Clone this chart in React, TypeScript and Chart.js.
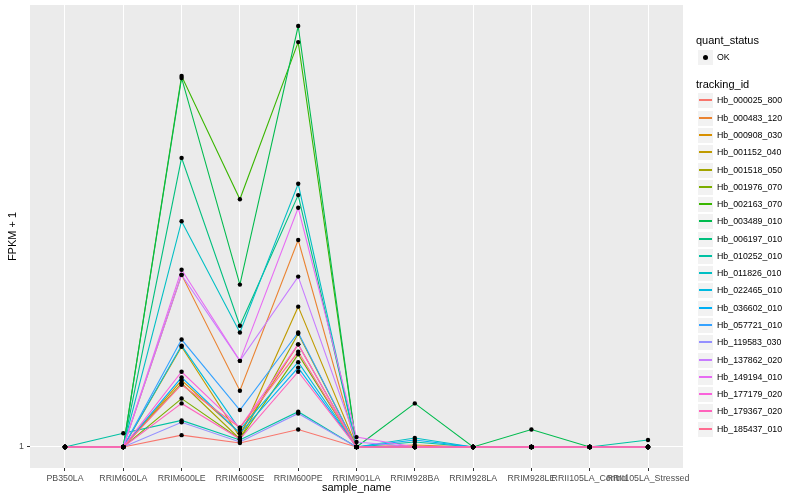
import React, { useEffect, useRef } from "react";
import { Chart, registerables } from "chart.js";

Chart.register(...registerables);

// ---- data ----
const categories = [
  "PB350LA",
  "RRIM600LA",
  "RRIM600LE",
  "RRIM600SE",
  "RRIM600PE",
  "RRIM901LA",
  "RRIM928BA",
  "RRIM928LA",
  "RRIM928LE",
  "RRII105LA_Control",
  "RRII105LA_Stressed",
];

const yTickValues = [1];

// FPKM + 1 per sample, in category order
const hb_000025_800 = [1, 1, 1.06, 1.02, 1.09, 1, 1, 1, 1, 1, 1];
const hb_000483_120 = [1, 1, 2.34, 1.32, 2.78, 1, 1.01, 1, 1, 1, 1];
const hb_000908_030 = [1, 1, 1.39, 1.07, 1.66, 1, 1, 1, 1, 1, 1];
const hb_001152_040 = [1, 1, 1.64, 1.05, 2.0, 1, 1, 1, 1, 1, 1];
const hb_001518_050 = [1, 1, 1.37, 1.04, 1.75, 1, 1, 1, 1, 1, 1];
const hb_001976_070 = [1, 1, 1.27, 1.04, 1.58, 1, 1, 1, 1, 1, 1];
const hb_002163_070 = [1, 1, 6.25, 3.4, 7.39, 1, 1, 1, 1, 1, 1];
const hb_003489_010 = [1, 1, 6.19, 2.23, 8.0, 1, 1.24, 1, 1.09, 1, 1];
const hb_006197_010 = [1, 1, 4.17, 1.82, 3.47, 1, 1, 1, 1, 1, 1];
const hb_010252_010 = [1, 1.07, 1.14, 1.035, 1.19, 1, 1.025, 1, 1, 1, 1.035];
const hb_011826_010 = [1, 1, 3.05, 1.76, 3.67, 1, 1.045, 1, 1, 1, 1];
const hb_022465_010 = [1, 1, 1.65, 1.09, 1.52, 1, 1, 1, 1, 1, 1];
const hb_036602_010 = [1, 1, 1.41, 1.07, 1.48, 1, 1.035, 1, 1, 1, 1];
const hb_057721_010 = [1, 1, 1.7, 1.2, 1.76, 1, 1, 1, 1, 1, 1];
const hb_119583_030 = [1, 1, 1.13, 1.025, 1.18, 1, 1, 1, 1, 1, 1];
const hb_137862_020 = [1, 1, 2.34, 1.53, 2.32, 1.025, 1, 1, 1, 1, 1];
const hb_149194_010 = [1, 1, 2.4, 1.53, 3.26, 1.05, 1, 1, 1, 1, 1];
const hb_177179_020 = [1, 1, 1.45, 1.1, 1.66, 1, 1, 1, 1, 1, 1];
const hb_179367_020 = [1, 1, 1.24, 1.04, 1.45, 1, 1, 1, 1, 1, 1];
const hb_185437_010 = [1, 1, 1.36, 1.1, 1.6, 1, 1, 1, 1, 1, 1];

const trackingIds = [
  "Hb_000025_800",
  "Hb_000483_120",
  "Hb_000908_030",
  "Hb_001152_040",
  "Hb_001518_050",
  "Hb_001976_070",
  "Hb_002163_070",
  "Hb_003489_010",
  "Hb_006197_010",
  "Hb_010252_010",
  "Hb_011826_010",
  "Hb_022465_010",
  "Hb_036602_010",
  "Hb_057721_010",
  "Hb_119583_030",
  "Hb_137862_020",
  "Hb_149194_010",
  "Hb_177179_020",
  "Hb_179367_020",
  "Hb_185437_010",
];

const seriesValues = [
  hb_000025_800,
  hb_000483_120,
  hb_000908_030,
  hb_001152_040,
  hb_001518_050,
  hb_001976_070,
  hb_002163_070,
  hb_003489_010,
  hb_006197_010,
  hb_010252_010,
  hb_011826_010,
  hb_022465_010,
  hb_036602_010,
  hb_057721_010,
  hb_119583_030,
  hb_137862_020,
  hb_149194_010,
  hb_177179_020,
  hb_179367_020,
  hb_185437_010,
];

const quantStatus = ["OK"];

// ---- style ----
const palette = [
  "#F8766D", "#EA8331", "#D89000", "#C09B00", "#A3A500",
  "#7CAE00", "#39B600", "#00BB4E", "#00BF7D", "#00C1A3",
  "#00BFC4", "#00BAE0", "#00B0F6", "#35A2FF", "#9590FF",
  "#C77CFF", "#E76BF3", "#FA62DB", "#FF62BC", "#FF6C91",
];

const FONT = "'Liberation Sans', Arial, Helvetica, sans-serif";
const KEY = 17.28;

export default function App() {
  const ref = useRef<HTMLCanvasElement>(null);

  useEffect(() => {
    if (!ref.current) return;
    Chart.defaults.font.family = FONT;
    const all = seriesValues.flat();
    const logMax = Math.log10(Math.max(...all));
    const n = categories.length;

    const panelBg = {
      id: "panelBg",
      beforeDraw(chart: any) {
        const { ctx, chartArea: a } = chart;
        ctx.save();
        ctx.fillStyle = "#EBEBEB";
        ctx.fillRect(a.left, a.top, a.right - a.left, a.bottom - a.top);
        ctx.restore();
      },
    };

    const pointsOnTop = {
      id: "pointsOnTop",
      afterDatasetsDraw(chart: any) {
        const ctx = chart.ctx;
        ctx.save();
        ctx.fillStyle = "#000000";
        chart.data.datasets.forEach((_: any, i: number) => {
          const meta = chart.getDatasetMeta(i);
          meta.data.forEach((el: any) => {
            ctx.beginPath();
            ctx.arc(el.x, el.y, 2.2, 0, Math.PI * 2);
            ctx.fill();
          });
        });
        ctx.restore();
      },
    };

    const chart = new Chart(ref.current, {
      type: "line",
      data: {
        datasets: seriesValues.map((vals, i) => ({
          label: trackingIds[i],
          data: vals.map((v, j) => ({ x: j, y: v })),
          borderColor: palette[i],
          backgroundColor: palette[i],
          borderWidth: 1.1,
          pointRadius: 0,
          tension: 0,
          order: seriesValues.length - i,
        })),
      },
      options: {
        animation: false,
        responsive: false,
        devicePixelRatio: 1,
        layout: { padding: { left: 0, top: 5, right: 117, bottom: 0 } },
        plugins: { legend: { display: false }, tooltip: { enabled: false } },
        scales: {
          x: {
            type: "linear",
            min: -0.6,
            max: n - 1 + 0.6,
            afterBuildTicks(s: any) {
              s.ticks = categories.map((_, i) => ({ value: i }));
            },
            afterFit(s: any) {
              s.height = 32;
              s.paddingLeft = 0;
              s.paddingRight = 0;
            },
            ticks: {
              autoSkip: false,
              maxRotation: 0,
              minRotation: 0,
              color: "#4D4D4D",
              font: { size: 8.8 },
              padding: 2,
              callback: (v: any) => categories[v as number] ?? "",
            },
            grid: {
              color: "#FFFFFF",
              lineWidth: 1,
              tickColor: "#333333",
              tickLength: 3,
            },
            border: { display: false },
            title: {
              display: true,
              text: "sample_name",
              color: "#000000",
              font: { size: 11 },
              padding: { top: 0, bottom: 5 },
            },
          },
          y: {
            type: "logarithmic",
            min: Math.pow(10, -0.05 * logMax),
            max: Math.pow(10, 1.05 * logMax),
            afterBuildTicks(s: any) {
              s.ticks = yTickValues.map((v) => ({ value: v }));
            },
            afterFit(s: any) {
              s.width = 30;
              s.paddingTop = 0;
              s.paddingBottom = 0;
            },
            ticks: {
              color: "#4D4D4D",
              font: { size: 8.8 },
              padding: 3,
              callback: (v: any) => String(v),
            },
            grid: {
              color: "#FFFFFF",
              lineWidth: 1,
              tickColor: "#333333",
              tickLength: 3,
            },
            border: { display: false },
            title: {
              display: true,
              text: "FPKM + 1",
              color: "#000000",
              font: { size: 11 },
              padding: { top: 6, bottom: 0 },
            },
          },
        },
      } as any,
      plugins: [panelBg, pointsOnTop],
    });
    return () => chart.destroy();
  }, []);

  const textStyle = (size: number): React.CSSProperties => ({
    position: "absolute",
    fontFamily: FONT,
    fontSize: size,
    color: "#000000",
    whiteSpace: "nowrap",
  });

  const keyBox = (top: number): React.CSSProperties => ({
    position: "absolute",
    left: 697,
    top,
    width: 17,
    height: 17,
    background: "#F2F2F2",
    border: "1px solid #FFFFFF",
    boxSizing: "border-box",
  });

  return (
    <div
      style={{
        position: "fixed",
        left: 0,
        top: 0,
        width: 800,
        height: 500,
        background: "#FFFFFF",
        overflow: "hidden",
      }}
    >
      <canvas
        ref={ref}
        width={800}
        height={500}
        style={{ position: "absolute", left: 0, top: 0, width: 800, height: 500 }}
      />
      {/* legend: quant_status */}
      <div style={{ ...textStyle(11), left: 696, top: 33, height: 14, lineHeight: "14px" }}>
        quant_status
      </div>
      {quantStatus.map((q, i) => {
        const top = Math.round(48.5 + i * KEY);
        return (
          <React.Fragment key={q}>
            <div style={keyBox(top)}>
              <div
                style={{
                  position: "absolute",
                  left: 5,
                  top: 5,
                  width: 5,
                  height: 5,
                  borderRadius: 2.5,
                  background: "#000000",
                }}
              />
            </div>
            <div
              style={{
                ...textStyle(8.8),
                left: 717,
                top,
                height: 17,
                lineHeight: "17px",
              }}
            >
              {q}
            </div>
          </React.Fragment>
        );
      })}
      {/* legend: tracking_id */}
      <div style={{ ...textStyle(11), left: 696, top: 77, height: 14, lineHeight: "14px" }}>
        tracking_id
      </div>
      {trackingIds.map((id, i) => {
        const top = Math.round(92.4 + i * KEY);
        return (
          <React.Fragment key={id}>
            <div style={keyBox(top)}>
              <div
                style={{
                  position: "absolute",
                  left: 1,
                  right: 1,
                  top: 6,
                  height: 2,
                  background: palette[i],
                }}
              />
            </div>
            <div
              style={{
                ...textStyle(8.8),
                left: 717,
                top,
                height: 17,
                lineHeight: "17px",
              }}
            >
              {id}
            </div>
          </React.Fragment>
        );
      })}
    </div>
  );
}
